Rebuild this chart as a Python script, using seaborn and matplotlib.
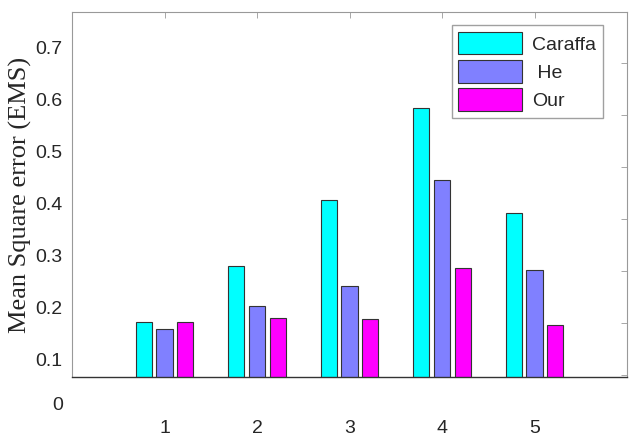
import matplotlib
matplotlib.use("Agg")
import matplotlib.pyplot as plt
import matplotlib.transforms as mtransforms
import seaborn as sns
import pandas as pd

groups = [1, 2, 3, 4, 5]
methods = ["Caraffa", "He", "Our"]
legend_labels = ["Caraffa", " He", "Our"]
caraffa = [0.202, 0.311, 0.436, 0.614, 0.412]
he = [0.190, 0.234, 0.272, 0.476, 0.303]
our = [0.202, 0.211, 0.209, 0.306, 0.197]
colors = ["#00FFFF", "#8080FF", "#FF00FF"]
ytick_vals = [0.1, 0.2, 0.3, 0.4, 0.5, 0.6, 0.7]
ytick_labels = ["0.1", "0.2", "0.3", "0.4", "0.5", "0.6", "0.7"]

rows = []
for m, vals in zip(methods, [caraffa, he, our]):
    for g, v in zip(groups, vals):
        rows.append({"group": g, "method": m, "value": v})
df = pd.DataFrame(rows)

sns.set_style("white")
plt.rcParams["font.family"] = ["Liberation Sans", "DejaVu Sans"]

fig = plt.figure(figsize=(6.42, 4.44), dpi=100)
ax = fig.add_axes([72 / 642, 1 - 377 / 444, 555 / 642, 365 / 444])

sns.barplot(data=df, x="group", y="value", hue="method", hue_order=methods,
            palette=colors, native_scale=True, width=0.67, gap=0.22,
            edgecolor="#333333", linewidth=0.8, saturation=1, ax=ax)

ax.set_xlim(0, 6)
ax.set_ylim(0.097, 0.798)
ax.set_xticks(groups)
ax.set_xticklabels([str(g) for g in groups])
ax.set_yticks(ytick_vals)
ax.set_yticklabels(ytick_labels)
ax.set_xlabel("")
ax.set_ylabel("Mean Square error (EMS)", family=["Liberation Serif", "DejaVu Serif"],
              fontsize=19, labelpad=2)

ax.tick_params(axis="both", direction="in", length=4, width=0.6, color="#999999",
               labelsize=14, top=True, right=True, bottom=False)
ax.tick_params(axis="x", pad=31)
ax.tick_params(axis="y", pad=7)

offset = mtransforms.ScaledTranslation(0, 0.16, fig.dpi_scale_trans)
for lab in ax.get_yticklabels():
    lab.set_transform(lab.get_transform() + offset)

for side in ["left", "top", "right"]:
    ax.spines[side].set_color("#999999")
    ax.spines[side].set_linewidth(0.8)
ax.spines["bottom"].set_color("#333333")
ax.spines["bottom"].set_linewidth(1.0)

fig.text(63 / 642, 1 - 405 / 444, "0", ha="right", va="center", fontsize=14)

handles, _ = ax.get_legend_handles_labels()
leg = ax.legend(handles, legend_labels, loc="upper right",
                bbox_to_anchor=((603 - 72) / 555, (377 - 25) / 365),
                borderaxespad=0, fontsize=14,
                frameon=True, fancybox=False, shadow=False, handlelength=3.3,
                handleheight=1.4, borderpad=0.35, labelspacing=0.3, handletextpad=0.5)
leg.get_frame().set_edgecolor("#888888")
leg.get_frame().set_linewidth(1.0)

fig.savefig("out.png", dpi=100)
